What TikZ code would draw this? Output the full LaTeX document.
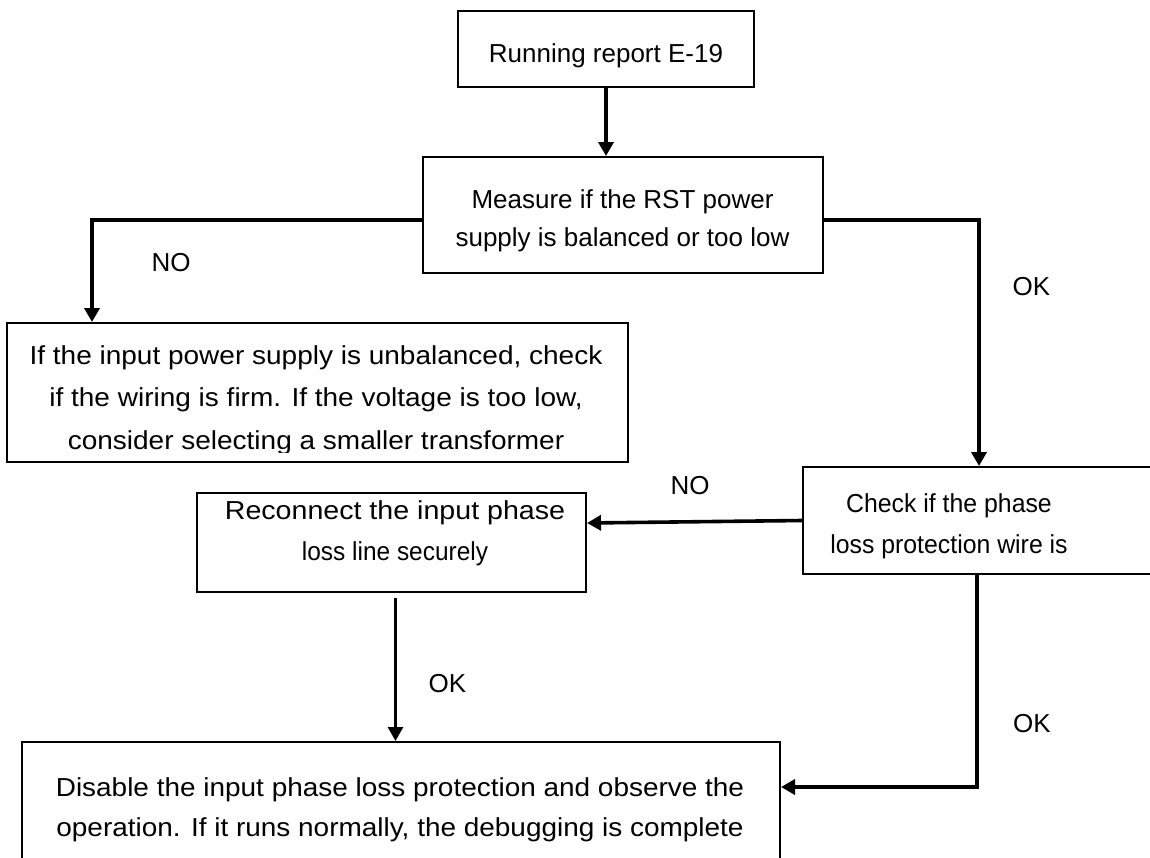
\documentclass[tikz,border=0pt]{standalone}
\usepackage{fontspec}
\usepackage{graphicx}
\setmainfont{Liberation Sans}
\usetikzlibrary{arrows.meta}

% one row per line, baseline of the node = baseline of the first line
\newcommand\mlines[1]{\begin{tabular}[t]{@{}c@{}}#1\end{tabular}}
% horizontal stretch of a text
\newcommand\wide[2]{\scalebox{#1}[1]{#2}}

\begin{document}
\begin{tikzpicture}[x=1pt,y=-1pt,
  box/.style={draw=black,line width=2pt,rectangle,inner sep=0pt},
  txt/.style={inner sep=0pt,anchor=base,font=\fontsize{26}{41.5}\selectfont},
  flow/.style={draw=black,line width=3.6pt,-{Triangle[length=14pt,width=15pt]}},
  thinflow/.style={draw=black,line width=2.8pt,-{Triangle[length=14pt,width=15pt]}}]

\useasboundingbox (0,0) rectangle (1150,857);

% boxes
\node[box,minimum width=296pt,minimum height=76pt]  (b1) at (606,49) {};
\node[box,minimum width=400pt,minimum height=116pt] (b2) at (623,215) {};
\node[box,minimum width=621pt,minimum height=139pt] (b3) at (317.5,392.5) {};
\node[box,minimum width=367pt,minimum height=107pt] (b4) at (986.5,520.5) {};
\node[box,minimum width=389pt,minimum height=99pt]  (b5) at (391.5,542.5) {};
\node[box,minimum width=758pt,minimum height=138pt] (b6) at (401,811) {};

% box texts
\node[txt] (t1) at (606,62.5) {Running report E-19};
\node[txt] (t2) at (622.5,208.3) {\mlines{Measure if the RST power\\[-3pt] supply is balanced or too low}};
\begin{scope}
  \clip (7,323) rectangle (628,452);
  \node[txt] (t3) at (316,364.3) {\wide{1.077}{\mlines{If the input power supply is unbalanced, check\\[1pt]
    if the wiring is firm. If the voltage is too low,\\[1pt]
    consider selecting a smaller transformer}}};
\end{scope}
\node[txt] (t4) at (949,512.3) {\wide{0.955}{\mlines{Check if the phase\\ loss protection wire is}}};
\node[txt] (t5) at (395,519) {\mlines{\wide{1.1}{Reconnect the input phase}\\ \wide{0.94}{loss line securely}}};
\node[txt] (t6) at (400,796) {\wide{1.075}{\mlines{Disable the input phase loss protection and observe the\\[-1pt]
  operation. If it runs normally, the debugging is complete}}};

% branch labels
\node[txt] (no1) at (171,271.7) {NO};
\node[txt] (ok1) at (1031.5,295.7) {OK};
\node[txt] (no2) at (690,494) {NO};
\node[txt] (ok2) at (447.5,692.7) {OK};
\node[txt] (ok3) at (1032,732) {OK};

% connectors
\draw[flow] (b1.south) -- (b1.south |- b2.north);
\draw[flow] ([yshift=-5pt]b2.west) -| ([xshift=86pt]b3.north west);
\draw[flow] ([yshift=-5pt]b2.east) -| ([xshift=-7.5pt]b4.north);
\draw[flow] (b4.west) -- ([yshift=19.5pt]b5.east);
\draw[thinflow] ([xshift=4pt,yshift=-5pt]b5.south) -- ([xshift=4pt]b5.south |- b6.north);
\draw[flow] ([xshift=-9.5pt]b4.south) |- ([yshift=24pt]b6.east);

\end{tikzpicture}
\end{document}
